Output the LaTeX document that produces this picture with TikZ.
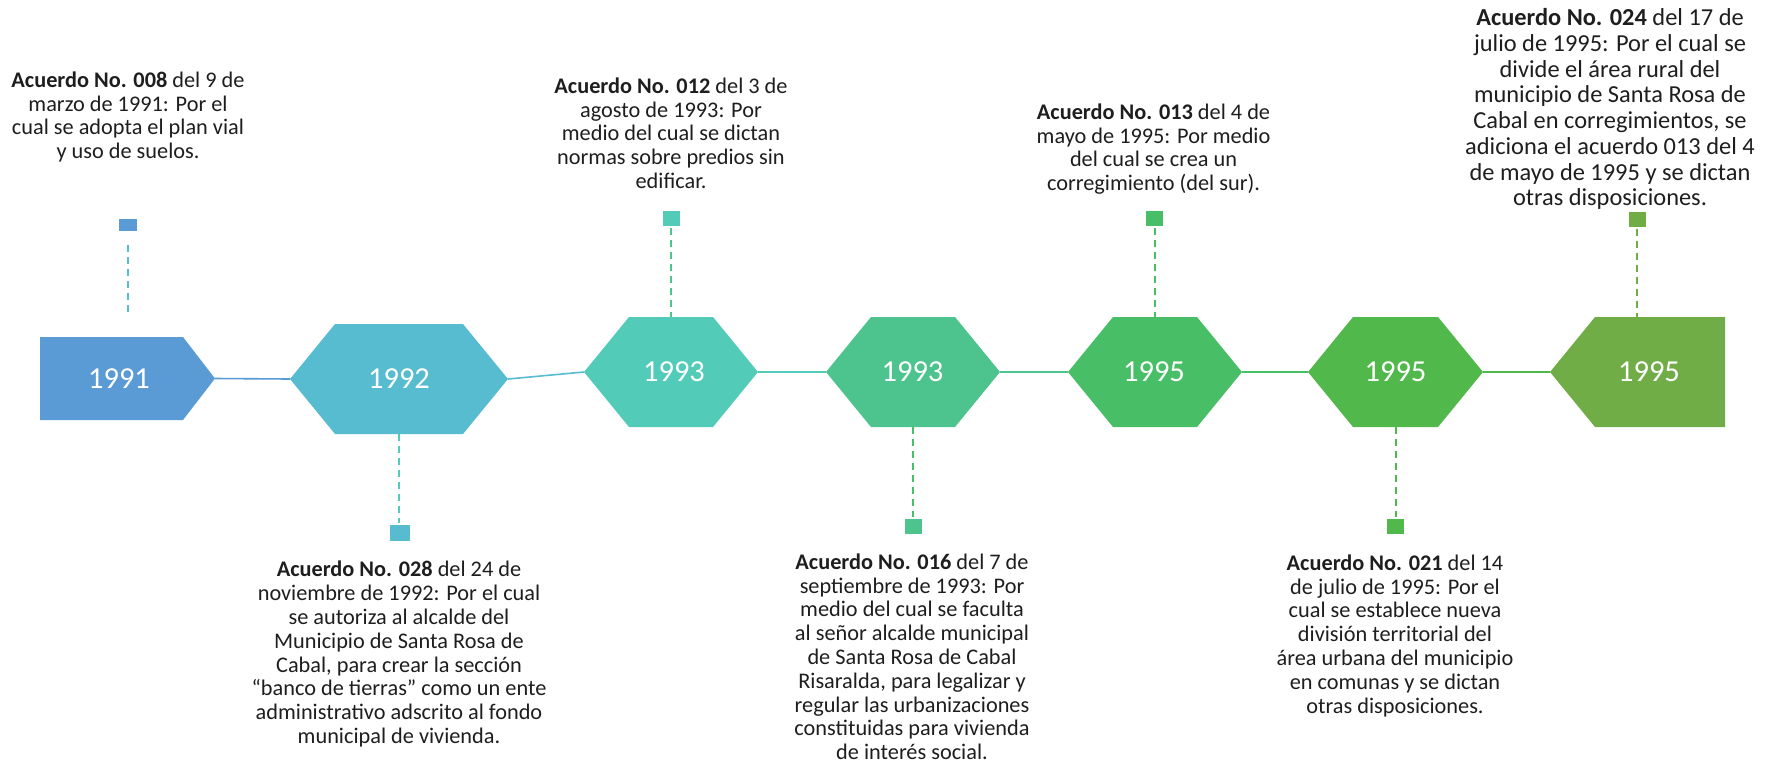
\documentclass[tikz,border=0pt]{standalone}
\usepackage{fontspec}
\setmainfont{Carlito}
\definecolor{c1}{HTML}{5B9BD5}
\definecolor{c2}{HTML}{57BCD0}
\definecolor{c3}{HTML}{53CBB9}
\definecolor{c4}{HTML}{4DC48E}
\definecolor{c5}{HTML}{48BF66}
\definecolor{c6}{HTML}{51B84B}
\definecolor{c7}{HTML}{70AD47}
\definecolor{txt}{HTML}{1E1E1E}
\tikzset{
 shp/.style={inner sep=0pt, outer sep=0pt, minimum height=110pt},
 yrtxt/.style={text=white, font=\fontsize{30.5pt}{36pt}\selectfont, inner sep=0pt},
 desc/.style={align=center, inner sep=0pt, anchor=north, text=txt, font=\fontsize{22.3pt}{23.8pt}\selectfont},
 mk/.style={inner sep=0pt, outer sep=0pt, minimum width=17pt, minimum height=15pt},
 link/.style={line width=1.6pt},
 dsh/.style={line width=2pt, dash pattern=on 7pt off 5pt},
}
\begin{document}
\begin{tikzpicture}[x=1pt,y=-1pt]
\fill[white] (0,0) rectangle (1777,764);
\useasboundingbox (0,0) rectangle (1777,764);
% shape frames
\node[shp, minimum width=175pt, minimum height=83pt] (h1) at (127.5,378.5) {};
\node[shp, minimum width=218pt] (h2) at (399,379) {};
\node[shp, minimum width=174pt] (h3) at (671,372) {};
\node[shp, minimum width=174pt] (h4) at (913,372) {};
\node[shp, minimum width=174pt] (h5) at (1155,372) {};
\node[shp, minimum width=175pt] (h6) at (1395.5,372) {};
\node[shp, minimum width=175pt] (h7) at (1637.5,372) {};
% connectors
\draw[link, c1] (h1.east) -- (h2.west);
\draw[link, c2] (h2.east) -- (h3.west);
\draw[link, c3] (h3.east) -- (h4.west);
\draw[link, c4] (h4.east) -- (h5.west);
\draw[link, c5] (h5.east) -- (h6.west);
\draw[link, c6] (h6.east) -- (h7.west);
% fills
\fill[c1] (h1.north west) -- ([xshift=-32pt]h1.north east) -- (h1.east) -- ([xshift=-32pt]h1.south east) -- (h1.south west) -- cycle;
\fill[c2] (h2.west) -- ([xshift=45pt]h2.north west) -- ([xshift=-45pt]h2.north east) -- (h2.east) -- ([xshift=-45pt]h2.south east) -- ([xshift=45pt]h2.south west) -- cycle;
\fill[c3] (h3.west) -- ([xshift=45pt]h3.north west) -- ([xshift=-45pt]h3.north east) -- (h3.east) -- ([xshift=-45pt]h3.south east) -- ([xshift=45pt]h3.south west) -- cycle;
\fill[c4] (h4.west) -- ([xshift=45pt]h4.north west) -- ([xshift=-45pt]h4.north east) -- (h4.east) -- ([xshift=-45pt]h4.south east) -- ([xshift=45pt]h4.south west) -- cycle;
\fill[c5] (h5.west) -- ([xshift=45pt]h5.north west) -- ([xshift=-45pt]h5.north east) -- (h5.east) -- ([xshift=-45pt]h5.south east) -- ([xshift=45pt]h5.south west) -- cycle;
\fill[c6] (h6.west) -- ([xshift=45pt]h6.north west) -- ([xshift=-45pt]h6.north east) -- (h6.east) -- ([xshift=-45pt]h6.south east) -- ([xshift=45pt]h6.south west) -- cycle;
\fill[c7] (h7.west) -- ([xshift=45pt]h7.north west) -- (h7.north east) -- (h7.south east) -- ([xshift=45pt]h7.south west) -- cycle;
% year labels
\node[yrtxt] (y1) at (119,379) {1991};
\node[yrtxt] (y2) at (399,379) {1992};
\node[yrtxt] (y3) at (674,372) {1993};
\node[yrtxt] (y4) at (912.5,372) {1993};
\node[yrtxt] (y5) at (1154,372) {1995};
\node[yrtxt] (y6) at (1395.5,372) {1995};
\node[yrtxt] (y7) at (1649,372) {1995};
% markers
\node[mk, fill=c1, minimum width=18pt, minimum height=12pt] (m1) at (128,225) {};
\node[mk, fill=c2, minimum width=20pt, minimum height=16pt] (m2) at (400,533) {};
\node[mk, fill=c3] (m3) at (671,218.5) {};
\node[mk, fill=c4] (m4) at (913,526) {};
\node[mk, fill=c5] (m5) at (1154.5,218.5) {};
\node[mk, fill=c6] (m6) at (1395.5,526) {};
\node[mk, fill=c7] (m7) at (1637,219) {};
% dashed leaders
\draw[dsh, c2, shorten <=14pt, shorten >=24pt] (m1.south) -- (m1.south |- h1.north);
\draw[dsh, c3, shorten >=2pt] (h2.south) -- (h2.south |- m2.north);
\draw[dsh, c4, shorten <=2pt] (m3.south) -- (m3.south |- h3.north);
\draw[dsh, c5, shorten >=2pt] (h4.south) -- (h4.south |- m4.north);
\draw[dsh, c5, shorten <=2pt] (m5.south) -- (m5.south |- h5.north);
\draw[dsh, c6, shorten >=2pt] (h6.south) -- (h6.south |- m6.north);
\draw[dsh, c7, shorten <=2pt] (m7.south) -- (m7.south |- h7.north);
% descriptions
\node[desc] (d1) at (128,71.5) {\textbf{Acuerdo No. 008} del 9 de\\marzo de 1991: Por el\\cual se adopta el plan vial\\y uso de suelos.};
\node[desc] (d2) at (399,561) {\textbf{Acuerdo No. 028} del 24 de\\noviembre de 1992: Por el cual\\se autoriza al alcalde del\\Municipio de Santa Rosa de\\Cabal, para crear la sección\\“banco de tierras” como un ente\\administrativo adscrito al fondo\\municipal de vivienda.};
\node[desc] (d3) at (671,77.5) {\textbf{Acuerdo No. 012} del 3 de\\agosto de 1993: Por\\medio del cual se dictan\\normas sobre predios sin\\edificar.};
\node[desc] (d4) at (912,553.5) {\textbf{Acuerdo No. 016} del 7 de\\septiembre de 1993: Por\\medio del cual se faculta\\al señor alcalde municipal\\de Santa Rosa de Cabal\\Risaralda, para legalizar y\\regular las urbanizaciones\\constituidas para vivienda\\de interés social.};
\node[desc] (d5) at (1153.5,103.5) {\textbf{Acuerdo No. 013} del 4 de\\mayo de 1995: Por medio\\del cual se crea un\\corregimiento (del sur).};
\node[desc] (d6) at (1395,554.5) {\textbf{Acuerdo No. 021} del 14\\de julio de 1995: Por el\\cual se establece nueva\\división territorial del\\área urbana del municipio\\en comunas y se dictan\\otras disposiciones.};
\node[desc, font=\fontsize{24.4pt}{25.7pt}\selectfont] (d7) at (1610,8.5) {\textbf{Acuerdo No. 024} del 17 de\\julio de 1995: Por el cual se\\divide el área rural del\\municipio de Santa Rosa de\\Cabal en corregimientos, se\\adiciona el acuerdo 013 del 4\\de mayo de 1995 y se dictan\\otras disposiciones.};
\end{tikzpicture}
\end{document}
